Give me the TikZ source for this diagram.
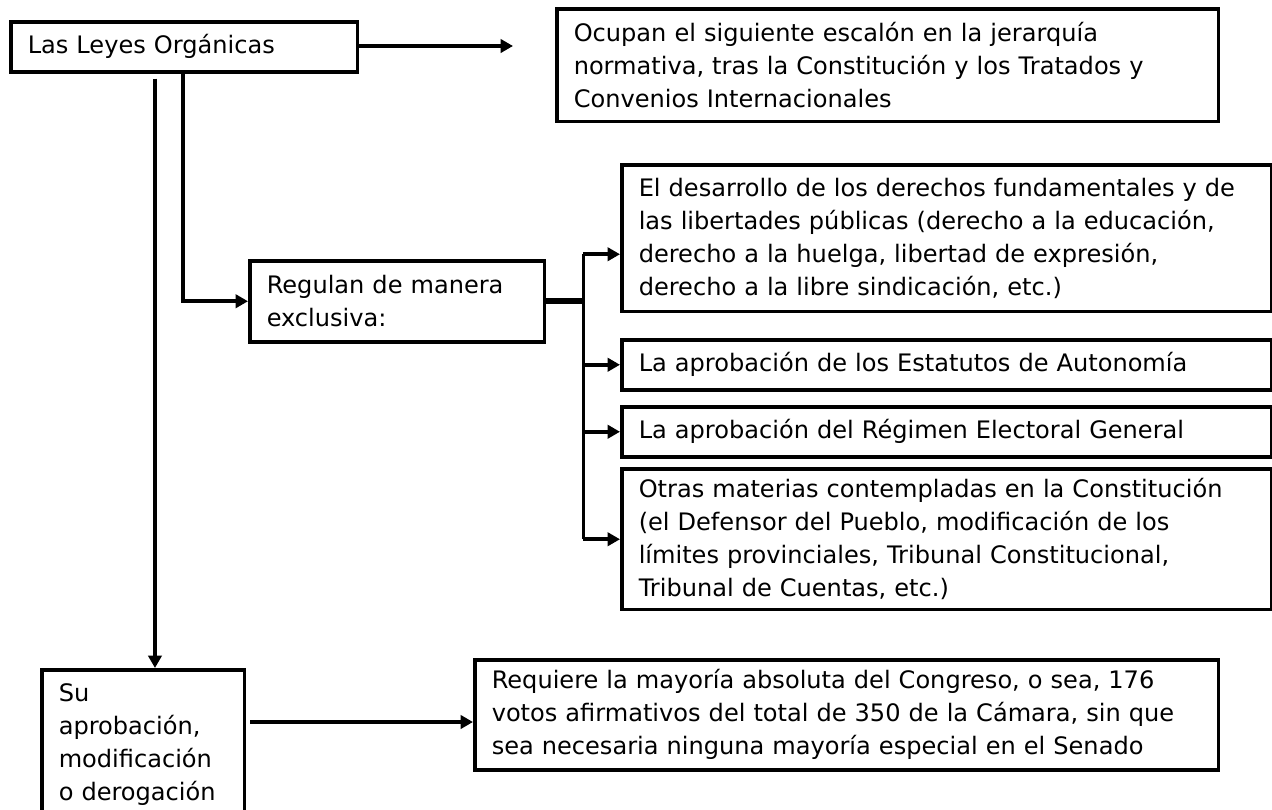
\documentclass[tikz,border=0pt]{standalone}
\usepackage{fontspec}
\setmainfont{DejaVu Sans}
\usetikzlibrary{
arrows.meta,
positioning
}

\begin{document}
\begin{tikzpicture}[
    x=0.02cm, y=-0.02cm,
    line width=2pt,
    >={Triangle[length=7pt,width=7.5pt]},
    box/.style={draw,
      anchor=north west,
      align=left,
      inner xsep=0.34cm,
      inner ysep=0pt,
      font=\fontsize{13.7pt}{18.8pt}\selectfont},
    bus/.style={line width=3.6pt}
  ]
  \useasboundingbox (0,0) rectangle (1272,809);

  \node[box, text width=6.26cm, minimum height=1.0cm] (leyes) at (9,20) {Las Leyes Orgánicas};
  \node[box, text width=12.56cm, minimum height=2.26cm] (ocupan) at (555,7) {%
    Ocupan el siguiente escalón en la jerarquía\\
    normativa, tras la Constitución y los Tratados y\\
    Convenios Internacionales};
  \node[box, text width=5.22cm, minimum height=1.62cm] (regulan) at (248,259) {%
    Regulan de manera\\
    exclusiva:};
  \node[box, text width=12.32cm, minimum height=2.94cm] (derechos) at (620,163) {%
    El desarrollo de los derechos fundamentales y de\\
    las libertades públicas (derecho a la educación,\\
    derecho a la huelga, libertad de expresión,\\
    derecho a la libre sindicación, etc.)};
  \node[box, text width=12.32cm, minimum height=1.0cm] (estatutos) at (620,338) {%
    La aprobación de los Estatutos de Autonomía};
  \node[box, text width=12.32cm, minimum height=1.0cm] (regimen) at (620,405) {%
    La aprobación del Régimen Electoral General};
  \node[box, text width=12.32cm, minimum height=2.82cm] (otras) at (620,467) {%
    Otras materias contempladas en la Constitución\\
    (el Defensor del Pueblo, modificación de los\\
    límites provinciales, Tribunal Constitucional,\\
    Tribunal de Cuentas, etc.)};
  \node[box, text width=3.38cm, minimum height=3.0cm] (su) at (40,668) {%
    Su\\
    aprobación,\\
    modificación\\
    o derogación};
  \node[box, text width=14.2cm, minimum height=2.2cm] (requiere) at (473,658) {%
    Requiere la mayoría absoluta del Congreso, o sea, 176\\
    votos afirmativos del total de 350 de la Cámara, sin que\\
    sea necesaria ninguna mayoría especial en el Senado};

  \coordinate (ocupanin) at (513,46);
  \coordinate (a1) at ([xshift=2.92cm,yshift=-0.1cm]leyes.south west);
  \coordinate (b1) at ([xshift=3.48cm]leyes.south west);
  \coordinate (bus) at ([xshift=0.74cm]regulan.east);
  \coordinate (s1) at (250,722);

  \draw[->] (leyes.east |- ocupanin) -- (ocupanin);
  \draw[->] (a1) -- (a1 |- su.north);
  \draw[->] (b1) |- (regulan.west);

  \draw[bus] (regulan.east) -- (bus);
  \path (bus |- derechos.west) ++(0,16) coordinate (bustop);
  \draw (bustop) -- (bus |- otras.west);
  \draw[->] (bustop) -- (bustop -| derechos.west);
  \foreach \n in {estatutos, regimen, otras}
    \draw[->] (bus |- \n.west) -- (\n.west);

  \draw[->] (s1) -- (s1 -| requiere.west);
\end{tikzpicture}
\end{document}
